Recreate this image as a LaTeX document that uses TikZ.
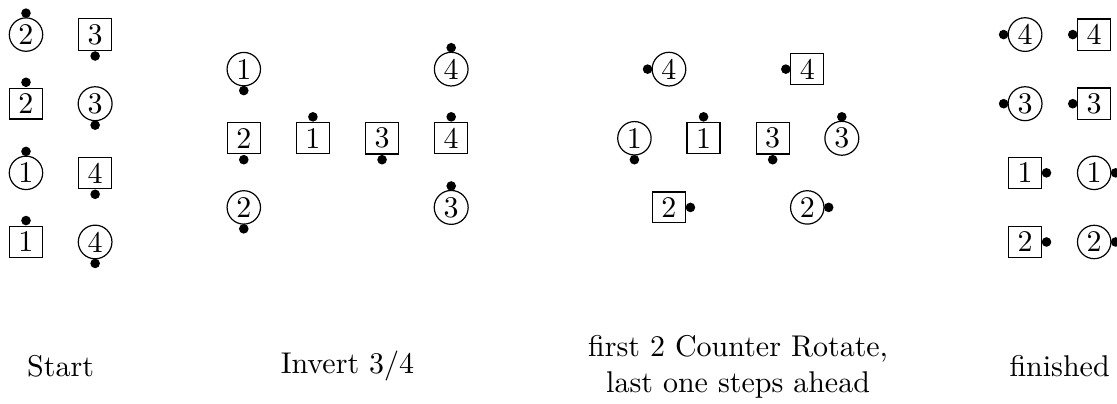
\documentclass[tikz,border=0pt]{standalone}

\tikzset{
  coin/.style={circle, draw, inner sep=1pt},
  tile/.style={rectangle, draw, inner xsep=3pt, inner ysep=1.8pt},
  stage/.style={align=center}
}

\begin{document}
\begin{tikzpicture}[x=0.81cm,y=0.81cm]
    % fixed frame, the right column of the last stage is cut at the edge
    \useasboundingbox (-0.376,-2.33) rectangle (15.78,3.50);

    % name/shape/x/y/number/dot dx/dot dy, one dot beside every dancer
    % Start
    \foreach \nm/\shp/\x/\y/\txt/\dx/\dy in {
        sa/coin/0/3/2/0/.31, sb/tile/1/3/3/0/-.31,
        sc/tile/0/2/2/0/.31, sd/coin/1/2/3/0/-.31,
        se/coin/0/1/1/0/.31, sf/tile/1/1/4/0/-.31,
        sg/tile/0/0/1/0/.31, sh/coin/1/0/4/0/-.31}
      {\node[\shp] (\nm) at (\x,\y) {\txt};
       \fill (\nm.center) ++(\dx,\dy) circle (1.6pt);}

    % Invert 3/4
    \foreach \nm/\shp/\x/\y/\txt/\dx/\dy in {
        ia/coin/3.15/2.5/1/0/-.31, ib/tile/3.15/1.5/2/0/-.31,
        ic/coin/3.15/0.5/2/0/-.31, id/tile/4.15/1.5/1/0/.31,
        ie/tile/5.15/1.5/3/0/-.31, ix/coin/6.15/2.5/4/0/.31,
        ig/tile/6.15/1.5/4/0/.31, ih/coin/6.15/0.5/3/0/.31}
      {\node[\shp] (\nm) at (\x,\y) {\txt};
       \fill (\nm.center) ++(\dx,\dy) circle (1.6pt);}

    % Counter Rotate
    \foreach \nm/\shp/\x/\y/\txt/\dx/\dy in {
        ra/coin/9.3/2.5/4/-.31/0, rb/tile/11.3/2.5/4/-.31/0,
        rc/coin/8.8/1.5/1/0/-.31, rd/tile/9.8/1.5/1/0/.31,
        re/tile/10.8/1.5/3/0/-.31, rf/coin/11.8/1.5/3/0/.31,
        rg/tile/9.3/0.5/2/.31/0, rh/coin/11.3/0.5/2/.31/0}
      {\node[\shp] (\nm) at (\x,\y) {\txt};
       \fill (\nm.center) ++(\dx,\dy) circle (1.6pt);}

    % finished
    \foreach \nm/\shp/\x/\y/\txt/\dx/\dy in {
        fa/coin/14.45/3/4/-.31/0, fb/tile/15.45/3/4/-.31/0,
        fc/coin/14.45/2/3/-.31/0, fd/tile/15.45/2/3/-.31/0,
        fe/tile/14.45/1/1/.31/0, ff/coin/15.45/1/1/.31/0,
        fg/tile/14.45/0/2/.31/0, fh/coin/15.45/0/2/.31/0}
      {\node[\shp] (\nm) at (\x,\y) {\txt};
       \fill (\nm.center) ++(\dx,\dy) circle (1.6pt);}

    % captions
    \node[stage] (start) at (0.5,-1.8) {Start};
    \node[stage] (invert) at (4.65,-1.8) {Invert $3/4$};
    \node[stage] (rotate) at (10.3,-1.8) {first 2 Counter Rotate,\\last one steps ahead};
    \node[stage] (finish) at (14.95,-1.8) {finished};
\end{tikzpicture}
\end{document}
